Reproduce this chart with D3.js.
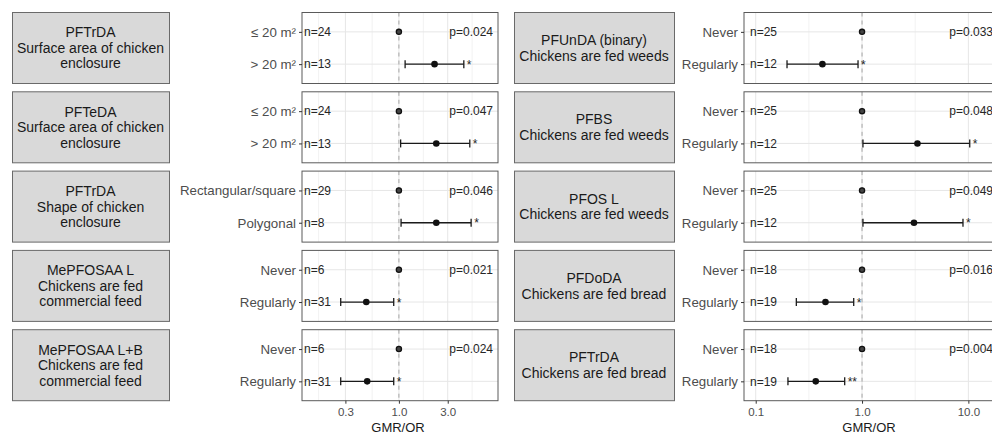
<!DOCTYPE html>
<html>
<head>
<meta charset="utf-8">
<script src="https://cdn.jsdelivr.net/npm/d3@7"></script>
<style>
body{margin:0;background:#fff;overflow:hidden}
svg{display:block;font-family:"Liberation Sans",Arial,sans-serif}
</style>
</head>
<body>
<svg id="chart" width="992" height="434"></svg>
<script>
// left column of facets
var leftTitles = ["PFTrDA\nSurface area of chicken\nenclosure",
  "PFTeDA\nSurface area of chicken\nenclosure",
  "PFTrDA\nShape of chicken\nenclosure",
  "MePFOSAA L\nChickens are fed\ncommercial feed",
  "MePFOSAA L+B\nChickens are fed\ncommercial feed"];
var leftLevels = [["≤ 20 m²","> 20 m²"],["≤ 20 m²","> 20 m²"],["Rectangular/square","Polygonal"],
  ["Never","Regularly"],["Never","Regularly"]];
var leftN = [[24,13],[24,13],[29,8],[6,31],[6,31]];
var leftEst = [2.23,2.32,2.32,0.48,0.49];
var leftLow = [1.15,1.04,1.05,0.27,0.27];
var leftHigh = [4.31,4.93,5.08,0.89,0.89];
var leftP = ["p=0.024","p=0.047","p=0.046","p=0.021","p=0.024"];
var leftStars = ["*","*","*","*","*"];
var leftTicks = [0.3,1,3];

// right column of facets
var rightTitles = ["PFUnDA (binary)\nChickens are fed weeds",
  "PFBS\nChickens are fed weeds",
  "PFOS L\nChickens are fed weeds",
  "PFDoDA\nChickens are fed bread",
  "PFTrDA\nChickens are fed bread"];
var rightLevels = [["Never","Regularly"],["Never","Regularly"],["Never","Regularly"],
  ["Never","Regularly"],["Never","Regularly"]];
var rightN = [[25,12],[25,12],[25,12],[18,19],[18,19]];
var rightEst = [0.424,3.32,3.08,0.453,0.367];
var rightLow = [0.197,1.02,1.02,0.241,0.201];
var rightHigh = [0.917,10.3,8.9,0.835,0.687];
var rightP = ["p=0.033","p=0.048","p=0.049","p=0.016","p=0.004"];
var rightStars = ["*","*","*","*","**"];
var rightTicks = [0.1,1,10];

var svg = d3.select("#chart");
var panelTop = 12.5, panelH = 71, panelStep = 79.3;

// ggplot style minor breaks: midpoints between majors in log space
function minorBreaks(ticks, domain){
  var lg = ticks.map(Math.log10);
  var st = lg[1]-lg[0], en = lg[lg.length-1]-lg[lg.length-2];
  lg = [lg[0]-st].concat(lg, [lg[lg.length-1]+en]);
  var out = [];
  for (var i=0;i<lg.length-1;i++){
    var m = (lg[i]+lg[i+1])/2;
    if (m > Math.log10(domain[0]) && m < Math.log10(domain[1])) out.push(Math.pow(10,m));
  }
  return out;
}

function drawColumn(c){
  var x = d3.scaleLog().domain(c.domain).range([c.px0, c.px1]);
  var minors = minorBreaks(c.ticks, c.domain);

  c.titles.forEach(function(title, k){
    var top = panelTop + k*panelStep;
    var y = d3.scalePoint().domain([0,1]).range([top, top+panelH]).padding(0.6);

    // strip box on the left
    svg.append("rect").attr("x", c.sx0+0.5).attr("y", top).attr("width", c.sx1-c.sx0).attr("height", panelH)
      .attr("fill", "#d9d9d9").attr("stroke", "#6a6a6a").attr("stroke-width", 1);
    var lines = title.split("\n");
    var cy = top + panelH/2;
    svg.append("g").selectAll("text").data(lines).enter().append("text")
      .attr("x", (c.sx0+c.sx1)/2)
      .attr("y", function(d,i){ return cy + (i-(lines.length-1)/2)*15.5; })
      .attr("dy", "0.35em").attr("text-anchor", "middle")
      .style("font-size", "14px").attr("fill", "#1a1a1a")
      .text(function(d){ return d; });

    var g = svg.append("g");
    g.append("rect").attr("x", c.px0).attr("y", top).attr("width", c.px1-c.px0).attr("height", panelH).attr("fill", "#fff");

    // grid
    g.selectAll(".minor").data(minors).enter().append("line")
      .attr("x1", function(d){ return x(d); }).attr("x2", function(d){ return x(d); })
      .attr("y1", top).attr("y2", top+panelH).attr("stroke", "#f2f2f2").attr("stroke-width", 1);
    g.selectAll(".major").data(c.ticks).enter().append("line")
      .attr("x1", function(d){ return x(d); }).attr("x2", function(d){ return x(d); })
      .attr("y1", top).attr("y2", top+panelH).attr("stroke", "#e6e6e6").attr("stroke-width", 1);
    g.selectAll(".hgrid").data([0,1]).enter().append("line")
      .attr("x1", c.px0).attr("x2", c.px1)
      .attr("y1", function(d){ return y(d); }).attr("y2", function(d){ return y(d); })
      .attr("stroke", "#e6e6e6").attr("stroke-width", 1);

    // reference line at 1
    g.append("line").attr("x1", x(1)).attr("x2", x(1)).attr("y1", top).attr("y2", top+panelH)
      .attr("stroke", "#a6a6a6").attr("stroke-width", 1).attr("stroke-dasharray", "4,4");

    // n labels and p value
    g.selectAll(".n").data(c.n[k]).enter().append("text")
      .attr("x", c.px0 + c.nOff).attr("y", function(d,i){ return y(i); }).attr("dy", "0.35em")
      .style("font-size", "12px").attr("fill", "#262626")
      .text(function(d){ return "n=" + d; });
    g.append("text").attr("x", c.px1 - 5).attr("y", y(0)).attr("dy", "0.35em")
      .attr("text-anchor", "end").style("font-size", "12px").attr("fill", "#262626").text(c.p[k]);

    // reference category point
    g.append("circle").attr("cx", x(1)).attr("cy", y(0)).attr("r", 2.6)
      .attr("fill", "#444").attr("stroke", "#111").attr("stroke-width", 1.3);

    // error bar of the compared category
    var yr = y(1);
    g.append("line").attr("x1", x(c.low[k])).attr("x2", x(c.high[k])).attr("y1", yr).attr("y2", yr)
      .attr("stroke", "#1a1a1a").attr("stroke-width", 1.3);
    [c.low[k], c.high[k]].forEach(function(v){
      g.append("line").attr("x1", x(v)).attr("x2", x(v)).attr("y1", yr-4).attr("y2", yr+4)
        .attr("stroke", "#1a1a1a").attr("stroke-width", 1.3);
    });
    g.append("circle").attr("cx", x(c.est[k])).attr("cy", yr).attr("r", 3.3).attr("fill", "#111");
    g.append("text").attr("x", x(c.high[k]) + 3).attr("y", yr + 4.5)
      .style("font-size", "12px").attr("fill", "#262626").text(c.stars[k]);

    g.append("rect").attr("x", c.px0).attr("y", top).attr("width", c.px1-c.px0).attr("height", panelH)
      .attr("fill", "none").attr("stroke", "#5a5a5a").attr("stroke-width", 1);

    // category axis
    var ya = d3.scalePoint().domain(c.levels[k]).range([top, top+panelH]).padding(0.6);
    var yAxis = svg.append("g").attr("transform", "translate(" + c.px0 + ",0)")
      .call(d3.axisLeft(ya).tickSize(3).tickPadding(3));
    yAxis.select(".domain").remove();
    yAxis.selectAll("line").attr("stroke", "#333");
    yAxis.selectAll("text").style("font-size", "13.3px").attr("fill", "#4d4d4d")
      .style("font-family", "'Liberation Sans',Arial,sans-serif");

    if (k == c.titles.length-1){
      var xAxis = svg.append("g").attr("transform", "translate(0," + (top+panelH) + ")")
        .call(d3.axisBottom(x).tickValues(c.ticks).tickFormat(d3.format(".1f")).tickSize(3).tickPadding(4));
      xAxis.select(".domain").remove();
      xAxis.selectAll("line").attr("stroke", "#333");
      xAxis.selectAll("text").style("font-size", "11.5px").attr("fill", "#4d4d4d")
        .style("font-family", "'Liberation Sans',Arial,sans-serif");
      svg.append("text").attr("x", (c.px0+c.px1)/2 - 2).attr("y", 432)
        .attr("text-anchor", "middle").style("font-size", "13px").attr("fill", "#1a1a1a").text("GMR/OR");
    }
  });
}

drawColumn({titles: leftTitles, levels: leftLevels, n: leftN, est: leftEst, low: leftLow, high: leftHigh,
  p: leftP, stars: leftStars, ticks: leftTicks, domain: [0.113, 9.3],
  sx0: 12, sx1: 169, px0: 302, px1: 498, nOff: 2});
drawColumn({titles: rightTitles, levels: rightLevels, n: rightN, est: rightEst, low: rightLow, high: rightHigh,
  p: rightP, stars: rightStars, ticks: rightTicks, domain: [0.0776, 19],
  sx0: 514, sx1: 674, px0: 744, px1: 998, nOff: 6});
</script>
</body>
</html>
